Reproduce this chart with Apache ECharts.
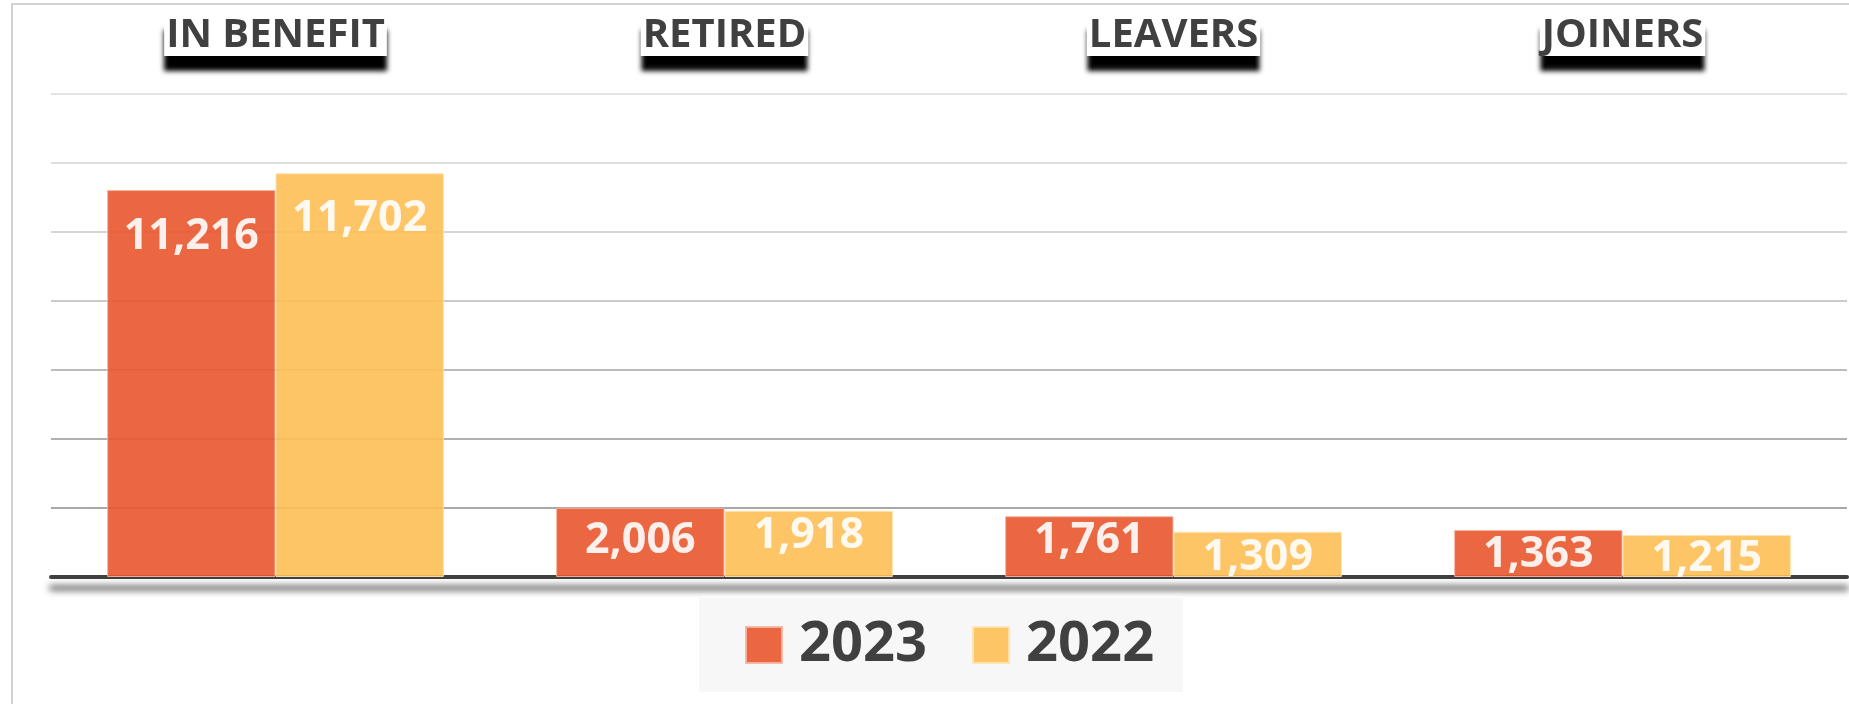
<!DOCTYPE html>
<html>
<head>
<meta charset="utf-8">
<script src="https://cdn.jsdelivr.net/npm/echarts@6/dist/echarts.min.js"></script>
<style>
  html, body { margin: 0; padding: 0; background: #fff; overflow: hidden; }
  #wrap { position: relative; width: 1849px; height: 704px; }
  /* outer frame of the chart area, right/bottom edge cut off */
  #wrap::before {
    content: ""; position: absolute; left: 11px; top: 3px; right: -10px; bottom: -10px;
    border: 2px solid #d2d2d2;
  }
  #chart { position: absolute; left: 0; top: 0; width: 1849px; height: 704px; }
</style>
</head>
<body>
<div id="wrap"><div id="chart"></div></div>
<script>
var categories = ["IN BENEFIT", "RETIRED", "LEAVERS", "JOINERS"];
var values2023 = [11216, 2006, 1761, 1363];
var values2022 = [11702, 1918, 1309, 1215];
var yTicks = [0, 2000, 4000, 6000, 8000, 10000, 12000, 14000];

var font = "'Open Sans', 'Noto Sans', sans-serif";
// label distance from bar top, per bar (reference has them nudged by hand)
var dist2023 = [25, 11, 3, 3];
var dist2022 = [24, 3, 4, 2];

function items(vals, dists) {
  return vals.map(function (v, i) {
    return { value: v, label: { distance: dists[i] } };
  });
}

var barLabel = {
  show: true,
  position: "insideTop",
  color: "#fff",
  fontFamily: font,
  fontWeight: "bold",
  fontSize: 43,
  formatter: function (p) {
    return p.value.toLocaleString("en-US");
  },
};

var chart = echarts.init(document.getElementById("chart"));
var option = {
  animation: false,
  backgroundColor: "transparent",
  grid: { left: 51, right: 2, top: 94, bottom: 127 },
  legend: {
    data: ["2023", "2022"],
    left: 699,
    top: 598,
    padding: [19, 29, 19, 46],
    backgroundColor: "#f7f7f7",
    icon: "rect",
    itemWidth: 36,
    itemHeight: 36,
    itemGap: 45,
    textStyle: {
      fontFamily: font,
      fontWeight: "bold",
      fontSize: 56,
      color: "#404040",
      padding: [0, 0, 0, 12],
    },
  },
  xAxis: [
    {
      type: "category",
      data: categories,
      position: "bottom",
      axisLine: {
        lineStyle: {
          color: "#404040",
          width: 4,
          shadowColor: "rgba(0,0,0,0.8)",
          shadowBlur: 7,
          shadowOffsetY: 11,
        },
      },
      axisTick: { show: false },
      axisLabel: { show: false },
    },
    {
      type: "category",
      data: categories,
      position: "top",
      axisLine: { show: false },
      axisTick: { show: false },
      axisLabel: {
        margin: 38,
        fontFamily: font,
        fontWeight: "bold",
        fontSize: 40,
        color: "#404040",
        backgroundColor: "#fff",
        padding: [1, 2, 0, 2],
        shadowColor: "rgba(0,0,0,1)",
        shadowBlur: 5,
        shadowOffsetY: 15,
      },
    },
  ],
  yAxis: {
    type: "value",
    min: yTicks[0],
    max: yTicks[yTicks.length - 1],
    interval: yTicks[1] - yTicks[0],
    axisLine: { show: false },
    axisTick: { show: false },
    axisLabel: { show: false },
    splitLine: {
      lineStyle: {
        width: 2,
        color: ["#a0a0a0", "#a8a8a8", "#b0b0b0", "#bcbcbc", "#cacaca", "#d6d6d6", "#dedede", "#e4e4e4"],
      },
    },
  },
  series: [
    {
      name: "2023",
      type: "bar",
      xAxisIndex: 0,
      data: items(values2023, dist2023),
      barGap: "0%",
      barCategoryGap: "25%",
      itemStyle: { color: "#E8562E", opacity: 0.9, borderColor: "#F6B4A2", borderWidth: 1 },
      label: barLabel,
    },
    {
      name: "2022",
      type: "bar",
      xAxisIndex: 0,
      data: items(values2022, dist2022),
      barGap: "0%",
      barCategoryGap: "25%",
      itemStyle: { color: "#FDBF55", opacity: 0.9, borderColor: "#FFE3B0", borderWidth: 1 },
      label: barLabel,
    },
  ],
};
chart.setOption(option);
window.addEventListener("resize", function () {
  chart.resize();
});
</script>
</body>
</html>
